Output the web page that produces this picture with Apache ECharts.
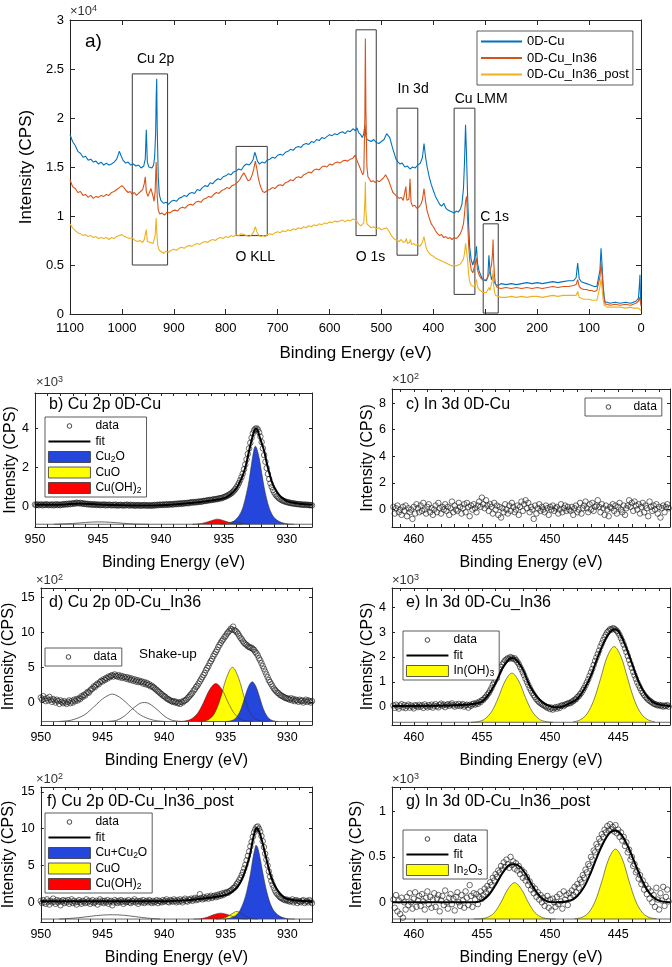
<!DOCTYPE html>
<html><head><meta charset="utf-8">
<script src="https://cdn.jsdelivr.net/npm/echarts@6/dist/echarts.min.js"></script>
<style>html,body{margin:0;padding:0;background:#fff}#c{width:672px;height:967px}</style>
</head><body><div id="c"></div>
<script>
// ---------------- DATA ----------------
// Survey spectra (a): [binding energy eV, intensity in 1e4 CPS]
const SURVEY_NAMES = ['0D-Cu', '0D-Cu_In36', '0D-Cu_In36_post'];
const SURVEY_CU = [[1100,1.83],[1095,1.76],[1090,1.72],[1085,1.66],[1080,1.64],[1075,1.60],[1070,1.61],[1065,1.57],[1060,1.58],[1055,1.55],[1050,1.56],[1045,1.53],[1040,1.55],[1035,1.52],[1030,1.54],[1025,1.52],[1020,1.53],[1015,1.55],[1010,1.58],[1005,1.66],[1002,1.62],[998,1.57],[993,1.54],[988,1.55],[983,1.52],[978,1.53],[973,1.51],[968,1.52],[963,1.49],[958,1.51],[955,1.58],[953,1.88],[951,1.55],[948,1.50],[945,1.51],[942,1.49],[939,1.52],[937,1.60],[935,1.85],[934,2.20],[933,2.40],[932,1.90],[930,1.40],[928,1.22],[925,1.16],[920,1.13],[915,1.14],[910,1.12],[905,1.15],[900,1.16],[895,1.15],[890,1.18],[885,1.19],[880,1.21],[875,1.20],[870,1.23],[865,1.24],[860,1.23],[855,1.27],[850,1.26],[845,1.29],[840,1.31],[835,1.30],[830,1.34],[825,1.33],[820,1.36],[815,1.38],[810,1.37],[805,1.40],[800,1.41],[795,1.43],[790,1.42],[785,1.45],[780,1.46],[775,1.48],[770,1.47],[765,1.51],[760,1.53],[755,1.52],[750,1.55],[747,1.58],[744,1.65],[742,1.62],[739,1.56],[735,1.53],[730,1.55],[725,1.54],[720,1.57],[715,1.58],[710,1.60],[705,1.59],[700,1.62],[695,1.63],[690,1.62],[685,1.65],[680,1.66],[675,1.68],[670,1.67],[665,1.70],[660,1.71],[655,1.70],[650,1.73],[645,1.74],[640,1.73],[635,1.76],[630,1.75],[625,1.78],[620,1.77],[615,1.80],[610,1.79],[605,1.81],[600,1.83],[595,1.82],[590,1.84],[585,1.83],[580,1.85],[575,1.86],[570,1.84],[565,1.87],[560,1.86],[555,1.89],[550,1.87],[547,1.90],[544,1.85],[540,1.83],[537,1.80],[534,1.84],[532,1.93],[530,1.82],[528,1.78],[525,1.77],[520,1.76],[515,1.78],[510,1.75],[505,1.74],[500,1.76],[495,1.78],[490,1.84],[487,1.86],[484,1.80],[480,1.72],[476,1.65],[472,1.58],[468,1.55],[464,1.53],[460,1.54],[455,1.50],[450,1.51],[445,1.48],[440,1.50],[435,1.49],[430,1.52],[425,1.54],[421,1.60],[418,1.74],[415,1.60],[412,1.50],[408,1.40],[404,1.32],[400,1.26],[396,1.20],[392,1.16],[388,1.12],[384,1.10],[380,1.13],[376,1.08],[372,1.06],[368,1.05],[364,1.04],[360,1.03],[356,1.05],[352,1.04],[348,1.07],[345,1.12],[342,1.28],[340,1.55],[338,1.93],[336,1.60],[334,1.20],[332,0.90],[330,0.68],[327,0.55],[324,0.50],[321,0.48],[319,0.60],[317,0.69],[315,0.52],[312,0.44],[309,0.40],[305,0.35],[302,0.33],[298,0.34],[295,0.38],[293,0.60],[291,0.45],[288,0.35],[285,0.40],[283,0.33],[280,0.30],[275,0.29],[270,0.31],[260,0.30],[250,0.31],[240,0.30],[230,0.31],[220,0.32],[210,0.31],[200,0.32],[190,0.31],[180,0.32],[170,0.33],[160,0.32],[150,0.33],[140,0.34],[130,0.34],[125,0.37],[122,0.52],[119,0.36],[115,0.33],[110,0.32],[105,0.31],[100,0.30],[95,0.29],[90,0.28],[85,0.28],[82,0.30],[79,0.45],[77,0.67],[75,0.50],[73,0.30],[71,0.18],[69,0.12],[65,0.12],[60,0.11],[50,0.12],[40,0.11],[30,0.12],[20,0.11],[15,0.12],[10,0.13],[7,0.14],[5,0.16],[3,0.30],[2,0.40],[1,0.18],[0,0.10]];
const SURVEY_IN36 = [[1100,1.37],[1095,1.30],[1090,1.28],[1085,1.24],[1080,1.25],[1075,1.21],[1070,1.22],[1065,1.19],[1060,1.21],[1055,1.18],[1050,1.20],[1045,1.19],[1040,1.21],[1035,1.20],[1030,1.22],[1025,1.21],[1020,1.24],[1015,1.25],[1010,1.27],[1005,1.29],[1000,1.31],[996,1.29],[992,1.26],[988,1.24],[984,1.25],[980,1.22],[976,1.24],[972,1.21],[968,1.23],[964,1.25],[960,1.27],[957,1.33],[955,1.40],[953,1.25],[950,1.20],[947,1.24],[944,1.28],[942,1.30],[940,1.20],[938,1.15],[936,1.25],[934,1.55],[932,1.20],[930,1.06],[927,1.02],[923,1.03],[918,1.01],[913,1.04],[908,1.03],[903,1.05],[898,1.06],[893,1.05],[888,1.08],[883,1.09],[878,1.08],[873,1.11],[868,1.12],[863,1.11],[858,1.14],[853,1.15],[848,1.14],[843,1.17],[838,1.18],[833,1.20],[828,1.19],[823,1.22],[818,1.24],[813,1.23],[808,1.26],[803,1.27],[798,1.29],[793,1.28],[788,1.31],[783,1.32],[778,1.34],[773,1.37],[769,1.41],[765,1.44],[761,1.40],[757,1.36],[753,1.37],[749,1.42],[746,1.48],[743,1.56],[740,1.48],[737,1.38],[733,1.30],[729,1.25],[725,1.24],[720,1.26],[715,1.27],[710,1.29],[705,1.28],[700,1.31],[695,1.32],[690,1.31],[685,1.34],[680,1.35],[675,1.37],[670,1.36],[665,1.39],[660,1.40],[655,1.39],[650,1.42],[645,1.43],[640,1.45],[635,1.44],[630,1.47],[625,1.48],[620,1.47],[615,1.50],[610,1.51],[605,1.50],[600,1.53],[595,1.52],[590,1.54],[585,1.55],[580,1.54],[575,1.56],[570,1.57],[565,1.56],[560,1.58],[555,1.59],[551,1.62],[548,1.58],[545,1.54],[542,1.50],[539,1.46],[536,1.42],[534,1.45],[532,2.00],[531,2.81],[530,2.10],[528,1.50],[526,1.40],[523,1.38],[520,1.35],[516,1.36],[512,1.34],[508,1.36],[504,1.35],[500,1.37],[496,1.39],[492,1.42],[489,1.40],[486,1.36],[482,1.30],[478,1.24],[474,1.22],[470,1.20],[466,1.18],[462,1.19],[458,1.16],[455,1.18],[453,1.30],[451,1.16],[449,1.14],[447,1.17],[445,1.38],[443,1.14],[440,1.10],[436,1.11],[432,1.08],[428,1.09],[424,1.12],[421,1.17],[418,1.28],[415,1.15],[412,1.05],[408,0.98],[404,0.92],[400,0.89],[396,0.85],[392,0.82],[388,0.80],[384,0.81],[380,0.78],[376,0.79],[372,0.77],[368,0.78],[364,0.76],[360,0.78],[356,0.77],[352,0.79],[348,0.82],[345,0.86],[342,0.92],[340,1.02],[338,1.15],[336,1.20],[334,0.95],[332,0.70],[330,0.55],[327,0.45],[324,0.42],[321,0.44],[319,0.52],[317,0.57],[315,0.45],[312,0.40],[309,0.37],[305,0.35],[302,0.34],[298,0.35],[295,0.36],[293,0.40],[290,0.42],[288,0.50],[286,0.62],[285,0.76],[284,0.55],[282,0.38],[280,0.30],[277,0.27],[270,0.26],[260,0.27],[250,0.26],[240,0.27],[230,0.26],[220,0.27],[210,0.26],[200,0.27],[190,0.26],[180,0.27],[170,0.28],[160,0.27],[150,0.28],[140,0.28],[130,0.29],[125,0.30],[122,0.35],[119,0.28],[115,0.26],[110,0.25],[105,0.25],[100,0.24],[95,0.24],[90,0.23],[85,0.24],[82,0.26],[79,0.38],[77,0.52],[75,0.40],[73,0.25],[71,0.15],[69,0.10],[65,0.10],[60,0.09],[50,0.10],[40,0.09],[30,0.10],[20,0.09],[15,0.10],[10,0.11],[7,0.12],[5,0.13],[3,0.17],[2,0.19],[1,0.12],[0,0.08]];
const SURVEY_POST = [[1100,0.92],[1095,0.88],[1090,0.85],[1085,0.83],[1080,0.82],[1075,0.80],[1070,0.81],[1065,0.79],[1060,0.80],[1055,0.78],[1050,0.79],[1045,0.77],[1040,0.78],[1035,0.77],[1030,0.78],[1025,0.76],[1020,0.78],[1015,0.77],[1010,0.79],[1005,0.80],[1000,0.81],[995,0.79],[990,0.78],[985,0.77],[980,0.78],[975,0.75],[970,0.74],[965,0.75],[960,0.73],[957,0.76],[955,0.78],[953,0.86],[951,0.74],[948,0.72],[945,0.73],[942,0.71],[940,0.72],[938,0.74],[936,0.80],[934,0.98],[933,0.85],[931,0.70],[928,0.65],[925,0.63],[920,0.62],[915,0.64],[910,0.63],[905,0.65],[900,0.66],[895,0.65],[890,0.67],[885,0.68],[880,0.67],[875,0.69],[870,0.70],[865,0.69],[860,0.71],[855,0.72],[850,0.71],[845,0.73],[840,0.74],[835,0.73],[830,0.75],[825,0.76],[820,0.75],[815,0.77],[810,0.78],[805,0.77],[800,0.79],[795,0.78],[790,0.80],[785,0.79],[780,0.81],[775,0.80],[770,0.82],[765,0.81],[760,0.80],[755,0.79],[750,0.81],[746,0.84],[743,0.89],[740,0.84],[736,0.80],[732,0.79],[728,0.80],[724,0.79],[720,0.81],[715,0.82],[710,0.81],[705,0.83],[700,0.84],[695,0.83],[690,0.85],[685,0.84],[680,0.86],[675,0.85],[670,0.87],[665,0.86],[660,0.88],[655,0.87],[650,0.89],[645,0.88],[640,0.90],[635,0.89],[630,0.91],[625,0.90],[620,0.92],[615,0.91],[610,0.93],[605,0.92],[600,0.94],[595,0.93],[590,0.95],[585,0.94],[580,0.95],[575,0.96],[570,0.94],[565,0.96],[560,0.95],[555,0.97],[550,0.96],[547,0.94],[544,0.92],[540,0.90],[537,0.89],[534,0.93],[532,1.15],[531,1.35],[530,1.05],[528,0.92],[525,0.90],[520,0.88],[515,0.89],[510,0.87],[505,0.88],[500,0.86],[495,0.87],[490,0.88],[486,0.85],[482,0.81],[478,0.78],[474,0.76],[470,0.75],[466,0.74],[462,0.76],[458,0.73],[454,0.74],[452,0.77],[450,0.72],[446,0.73],[444,0.76],[442,0.71],[438,0.72],[434,0.70],[430,0.71],[426,0.69],[422,0.72],[418,0.79],[415,0.70],[412,0.65],[408,0.62],[404,0.60],[400,0.59],[396,0.57],[392,0.56],[388,0.55],[384,0.54],[380,0.53],[376,0.52],[372,0.51],[368,0.50],[364,0.49],[360,0.50],[356,0.49],[352,0.50],[348,0.51],[345,0.53],[342,0.56],[340,0.62],[338,0.72],[336,0.74],[334,0.55],[332,0.40],[330,0.33],[327,0.29],[324,0.27],[321,0.28],[319,0.32],[317,0.35],[315,0.28],[312,0.25],[309,0.23],[305,0.22],[302,0.21],[298,0.22],[295,0.23],[293,0.27],[291,0.24],[288,0.25],[286,0.35],[285,0.45],[284,0.30],[282,0.22],[280,0.19],[277,0.17],[270,0.17],[260,0.17],[250,0.18],[240,0.17],[230,0.18],[220,0.17],[210,0.18],[200,0.18],[190,0.17],[180,0.18],[170,0.19],[160,0.18],[150,0.19],[140,0.19],[130,0.19],[125,0.19],[122,0.23],[119,0.17],[115,0.16],[110,0.15],[105,0.15],[100,0.15],[95,0.14],[90,0.14],[85,0.14],[82,0.16],[79,0.28],[77,0.36],[75,0.26],[73,0.15],[71,0.09],[69,0.07],[65,0.07],[60,0.07],[50,0.07],[40,0.07],[30,0.06],[20,0.07],[15,0.06],[10,0.06],[7,0.06],[5,0.06],[3,0.05],[2,0.05],[1,0.04],[0,0.03]];
// Region boxes in (a): [label, E high, E low, y low, y high, label E, label y]
const REGION_BOXES = [
  ['Cu 2p', 980, 912, 0.50, 2.45, 935, 2.60],
  ['O KLL', 780, 720, 0.80, 1.71, 743, 0.58],
  ['O 1s', 549, 510, 0.80, 2.90, 521, 0.58],
  ['In 3d', 470, 430, 0.60, 2.10, 439, 2.29],
  ['Cu LMM', 360, 320, 0.20, 2.10, 308, 2.19],
  ['C 1s', 304, 275, 0.01, 0.92, 282, 0.99]
];

// Tick values
const XT_SURVEY = [0,100,200,300,400,500,600,700,800,900,1000,1100];
const YT_SURVEY = [0,0.5,1,1.5,2,2.5,3];
const XT_CU = [928,929,930,931,932,933,934,935,936,937,938,939,940,941,942,943,944,945,946,947,948,949,950];
const XL_CU = [930,935,940,945,950];
const XT_IN = [442,443,444,445,446,447,448,449,450,451,452,453,454,455,456,457,458,459,460,461];
const XL_IN = [445,450,455,460];
const YT_B = [0,2,4], YT_C = [0,2,4,6,8], YT_D = [0,5,10,15], YT_E = [0,1,2,3,4], YT_F = [0,5,10,15], YT_G = [0,0.5,1];

// (b) Cu 2p 0D-Cu, x10^3 CPS, sampled from 950.0 eV downwards every 0.1 eV
const B_DATA = [0.12,0.10,0.14,0.09,0.11,0.13,0.08,0.12,0.10,0.14,0.11,
0.09,0.12,0.10,0.13,0.08,0.11,0.14,0.10,0.12,0.09,
0.13,0.11,0.15,0.12,0.16,0.13,0.17,0.14,0.18,0.16,
0.19,0.17,0.22,0.20,0.18,0.21,0.17,0.19,0.15,0.17,
0.14,0.16,0.12,0.15,0.13,0.11,0.14,0.12,0.10,0.13,
0.11,0.09,0.12,0.10,0.13,0.08,0.11,0.09,0.12,0.10,
0.08,0.11,0.09,0.12,0.07,0.10,0.08,0.11,0.09,0.07,
0.10,0.08,0.12,0.09,0.07,0.11,0.08,0.10,0.06,0.09,
0.07,0.10,0.08,0.06,0.09,0.07,0.10,0.08,0.06,0.09,
0.08,0.06,0.09,0.07,0.10,0.08,0.11,0.09,0.12,0.10,
0.11,0.13,0.10,0.12,0.14,0.11,0.13,0.15,0.12,0.14,
0.16,0.14,0.17,0.15,0.18,0.16,0.19,0.17,0.20,0.19,
0.21,0.19,0.22,0.24,0.22,0.25,0.23,0.26,0.24,0.27,
0.28,0.26,0.29,0.31,0.30,0.32,0.34,0.33,0.36,0.35,
0.37,0.39,0.38,0.41,0.40,0.43,0.45,0.44,0.47,0.50,
0.52,0.55,0.58,0.62,0.66,0.70,0.76,0.83,0.90,0.99,
1.10,1.22,1.36,1.52,1.70,1.92,2.16,2.42,2.70,2.98,
3.26,3.52,3.74,3.90,3.98,4.00,3.94,3.80,3.58,3.30,
2.98,2.64,2.30,1.98,1.68,1.42,1.20,1.02,0.86,0.74,
0.64,0.56,0.49,0.43,0.39,0.35,0.32,0.29,0.27,0.25,
0.23,0.22,0.20,0.19,0.18,0.17,0.16,0.15,0.14,0.14,
0.13,0.12,0.12,0.11,0.12,0.10,0.11,0.09,0.10,0.08];
const B_FIT = [[950,0.11],[948,0.11],[946.5,0.18],[945,0.13],[943,0.09],[941,0.08],[939,0.13],[937,0.24],[936,0.33],[935,0.45],[934.5,0.62],[934,0.95],[933.6,1.45],[933.3,2.0],[933,2.85],[932.8,3.4],[932.6,3.85],[932.5,3.98],[932.4,3.98],[932.2,3.65],[932,3.25],[931.8,2.85],[931.6,2.25],[931.4,1.75],[931.2,1.3],[931,1.0],[930.6,0.6],[930.2,0.38],[930,0.3],[929.5,0.21],[929,0.16],[928,0.11]];
const B_BASE = [[950,-0.88],[928,-0.88]];
const B_SHAKE = [[948.5,-0.88],[947,-0.84],[946,-0.79],[945,-0.76],[944,-0.78],[943,-0.83],[942,-0.87],[941,-0.88]];
const B_CUOH2 = [[937.5,-0.88],[937,-0.86],[936.5,-0.8],[936,-0.7],[935.5,-0.62],[935,-0.7],[934.5,-0.8],[934,-0.86],[933.5,-0.88]];
const B_CUO = [[935.3,-0.88],[934.8,-0.84],[934.4,-0.77],[934.1,-0.74],[933.8,-0.77],[933.4,-0.84],[933,-0.88]];
const B_CU2O = [[935,-0.88],[934.6,-0.84],[934.2,-0.72],[933.8,-0.45],[933.5,-0.05],[933.2,0.7],[933,1.35],[932.8,2.2],[932.6,2.95],[932.5,3.09],[932.4,3.0],[932.2,2.5],[932,1.75],[931.8,1.0],[931.6,0.4],[931.4,-0.05],[931.2,-0.35],[931,-0.55],[930.6,-0.74],[930.2,-0.83],[929.8,-0.87],[929.4,-0.88]];

// (c) In 3d 0D-Cu, x10^2 CPS, from 461.5 eV downwards every 0.1 eV
const C_DATA = [0.2,-0.3,0.1,0.3,-0.2,0.0,-0.4,0.2,-0.1,0.3,
-0.5,0.1,-0.2,0.0,-0.7,0.2,-0.3,0.4,0.1,-0.2,
0.3,-0.1,0.5,0.0,-0.3,0.2,0.4,-0.2,0.1,-0.4,
0.0,0.3,-0.2,0.5,0.1,-0.3,0.2,0.0,0.4,-0.1,
0.2,-0.4,0.1,0.6,-0.2,0.3,0.0,-0.1,0.5,0.2,
-0.3,0.1,0.4,-0.2,0.5,0.2,-0.5,0.3,0.0,0.4,
0.1,-0.2,0.3,0.6,0.2,0.9,0.4,0.1,0.7,0.3,
-0.1,0.4,0.2,-0.3,0.5,0.0,0.3,-0.4,0.2,-0.6,
0.1,-0.2,0.4,0.0,-0.3,0.3,-0.1,0.5,0.2,-0.2,
0.0,0.3,-0.4,0.2,0.6,-0.1,0.4,0.7,0.1,0.5,
-0.2,0.2,0.0,-0.7,0.3,-0.3,0.1,0.4,-0.1,0.2,
0.0,-0.2,0.3,0.1,-0.4,0.2,0.0,0.3,-0.1,0.1,
0.2,-0.3,0.0,0.4,-0.2,0.1,0.3,-0.1,0.2,0.0,
-0.1,0.2,-0.4,0.1,0.3,-0.2,0.0,0.5,-0.3,0.1,
0.3,0.6,0.1,-0.2,0.4,0.0,0.5,-0.1,0.2,0.3,
0.7,0.2,-0.2,0.4,0.1,-0.4,0.3,0.0,-0.5,0.2,
0.1,0.4,-0.1,0.3,-0.3,0.2,0.5,0.0,-0.2,0.3,
-0.4,0.1,0.3,0.7,0.2,0.5,-0.1,0.6,0.3,0.0,
0.4,-0.3,0.2,0.5,-0.2,0.3,0.1,-0.5,0.6,0.2,
-0.1,0.3,0.0,0.4,-0.3,0.2,-0.6,0.1,0.3,-0.2,
0.2,0.4,0.1];

// (d) Cu 2p 0D-Cu_In36, x10^2 CPS, from 950.0 eV downwards every 0.1 eV
const D_DATA = [0.7,0.4,0.9,0.5,0.2,0.6,0.3,0.8,0.4,0.1,0.5,
0.3,0.0,0.4,0.2,-0.2,0.3,0.1,-0.1,0.2,0.0,
-0.2,0.1,0.3,-0.1,0.2,0.0,0.4,0.2,0.5,0.3,
0.6,0.5,0.9,0.8,1.1,1.0,1.3,1.5,1.4,1.7,
1.9,2.0,2.3,2.2,2.5,2.7,2.6,2.9,3.1,3.0,
3.3,3.2,3.5,3.4,3.7,3.6,3.8,3.9,3.7,4.0,
3.8,3.7,3.9,3.6,3.8,3.5,3.7,3.6,3.4,3.6,
3.3,3.5,3.2,3.4,3.1,3.3,3.0,3.2,2.9,3.1,
2.9,3.0,2.7,2.9,2.6,2.8,2.5,2.6,2.3,2.4,
2.2,2.1,1.9,1.8,1.6,1.5,1.3,1.2,1.0,0.9,
0.8,0.6,0.5,0.4,0.3,0.2,0.1,0.2,0.0,0.1,
-0.1,0.0,-0.2,0.1,0.0,0.2,0.3,0.4,0.6,0.8,
1.0,1.2,1.4,1.7,1.9,2.2,2.4,2.7,3.0,3.3,
3.6,3.9,4.2,4.6,4.9,5.2,5.6,5.9,6.2,6.6,
6.9,7.2,7.5,7.9,8.2,8.5,8.8,9.0,9.3,9.5,
9.8,10.0,10.2,10.5,10.4,10.8,10.3,10.2,10.0,9.8,
9.5,9.2,9.0,8.7,8.5,8.3,8.2,8.0,7.9,7.8,
7.8,7.6,7.5,7.2,7.0,6.7,6.3,6.0,5.6,5.2,
4.8,4.4,4.0,3.6,3.2,2.9,2.6,2.3,2.0,1.8,
1.6,1.4,1.3,1.1,1.0,0.9,0.8,0.7,0.6,0.6,
0.5,0.4,0.6,0.3,0.5,0.2,0.4,0.3,0.1,0.4,
0.2,0.3,0.0,0.2,0.4,0.1,0.3,0.2,0.0,0.2];
const D_BASE = [[950,-2.7],[928,-2.7]];
const D_SHAKE1 = [[948.5,-2.7],[947.5,-2.5],[946.5,-1.8],[946,-1.1],[945.5,-0.3],[945,0.5],[944.5,1.05],[944.2,1.2],[943.9,1.05],[943.4,0.5],[942.9,-0.3],[942.4,-1.1],[941.9,-1.8],[940.9,-2.5],[939.9,-2.7]];
const D_SHAKE2 = [[944.6,-2.7],[943.8,-2.5],[943.2,-1.9],[942.7,-1.1],[942.2,-0.4],[941.9,-0.08],[941.6,0.0],[941.3,-0.08],[941,-0.4],[940.5,-1.1],[940,-1.9],[939.4,-2.5],[938.6,-2.7]];
const D_CUOH2 = [[938.8,-2.7],[938.3,-2.63],[937.8,-2.36],[937.3,-1.57],[936.8,0.0],[936.3,1.84],[935.8,2.7],[935.3,1.84],[934.8,0.0],[934.3,-1.57],[933.8,-2.36],[933.3,-2.63],[932.8,-2.7]];
const D_CUO = [[937.2,-2.7],[936.95,-2.67],[936.45,-2.48],[935.95,-1.66],[935.45,0.46],[934.95,3.46],[934.45,5.0],[933.95,3.46],[933.45,0.46],[932.95,-1.66],[932.45,-2.48],[931.95,-2.67],[931.5,-2.7]];
const D_CU2O = [[934.95,-2.7],[934.65,-2.64],[934.35,-2.45],[934.05,-1.94],[933.75,-0.89],[933.45,0.75],[933.15,2.27],[932.85,2.95],[932.55,2.27],[932.25,0.75],[931.95,-0.89],[931.65,-1.94],[931.35,-2.45],[931.05,-2.64],[930.75,-2.7]];
const D_NOTE = [[939.7, 6.8, 'Shake-up']];

// (e) In 3d 0D-Cu_In36, x10^3 CPS, from 461.5 eV downwards every 0.1 eV
const E_DATA = [0.05,-0.05,0.08,0.0,-0.08,0.04,0.1,-0.03,0.06,-0.06,
0.02,0.08,-0.04,0.05,0.0,-0.07,0.06,0.03,-0.02,0.07,
0.0,0.05,-0.05,0.09,0.02,-0.03,0.06,0.0,0.08,-0.04,
0.04,0.1,0.02,-0.03,0.07,0.12,0.03,0.08,-0.02,0.06,
0.1,0.03,0.08,0.13,0.05,0.0,0.09,0.04,0.11,0.02,
0.06,0.1,0.0,0.05,0.08,-0.04,0.07,0.03,0.1,0.12,
0.08,0.15,0.11,0.2,0.18,0.26,0.28,0.35,0.4,0.48,
0.55,0.65,0.75,0.88,0.98,1.1,1.22,1.35,1.48,1.6,
1.7,1.78,1.86,1.9,1.95,1.93,2.0,1.96,1.92,1.95,
1.88,1.8,1.72,1.6,1.5,1.38,1.26,1.12,1.0,0.88,
0.76,0.65,0.55,0.46,0.38,0.3,0.24,0.18,0.14,0.1,
0.06,0.03,0.0,-0.05,-0.02,-0.1,-0.04,-0.12,-0.06,-0.02,
-0.08,0.0,-0.05,0.03,0.06,0.02,0.08,0.1,0.12,0.15,
0.14,0.2,0.22,0.28,0.3,0.38,0.42,0.5,0.56,0.66,
0.75,0.86,0.98,1.1,1.24,1.38,1.52,1.68,1.84,1.98,
2.12,2.26,2.42,2.55,2.68,2.8,2.9,3.0,3.05,3.12,
3.1,3.16,3.14,3.1,3.05,2.98,2.88,2.76,2.64,2.5,
2.35,2.2,2.04,1.88,1.72,1.56,1.4,1.26,1.12,0.98,
0.86,0.75,0.64,0.55,0.47,0.4,0.34,0.28,0.24,0.2,
0.16,0.12,0.1,0.08,0.05,0.07,0.03,0.05,0.0,0.04,
0.02,0.06,0.0];
const E_FIT = [[461.6,0.03],[457,0.06],[455.5,0.12],[455,0.2],[454.5,0.5],[454,0.95],[453.5,1.55],[453,1.92],[452.8,1.96],[452.5,1.9],[452,1.5],[451.5,0.85],[451,0.42],[450.5,0.15],[450,0.02],[449.5,-0.03],[449,0.02],[448.5,0.15],[448,0.32],[447.5,0.7],[447,1.25],[446.5,2.0],[446,2.65],[445.6,3.0],[445.3,3.12],[445,3.05],[444.5,2.5],[444,1.75],[443.5,1.0],[443,0.5],[442.5,0.2],[442,0.08],[441.2,0.03]];
const E_BASE = [[461.6,-0.63],[441.2,-0.63]];
const E_INOH3_A = [[455.8,-0.63],[455.3,-0.604],[454.8,-0.505],[454.3,-0.21],[453.8,0.36],[453.3,1.03],[452.8,1.35],[452.3,1.03],[451.8,0.36],[451.3,-0.21],[450.8,-0.505],[450.3,-0.604],[449.8,-0.63]];
const E_INOH3_B = [[448.3,-0.61],[447.8,-0.535],[447.3,-0.297],[446.8,0.245],[446.3,1.12],[445.8,2.02],[445.3,2.42],[444.8,2.02],[444.3,1.12],[443.8,0.245],[443.3,-0.297],[442.8,-0.535],[442.3,-0.61]];

// (f) Cu 2p 0D-Cu_In36_post, x10^2 CPS, from 950.0 eV downwards every 0.1 eV
const F_DATA = [0.2,-0.1,0.3,0.0,-0.2,0.4,0.1,-0.3,0.2,0.0,0.5,
0.1,-0.2,0.3,0.0,0.2,-0.4,0.1,0.3,-0.1,0.2,
0.0,0.3,-0.2,0.1,0.4,-0.1,0.2,0.0,-0.3,0.1,
0.3,0.0,-0.2,0.2,0.1,-0.1,0.4,0.0,0.2,-0.2,
0.1,0.3,-0.1,0.0,0.2,-0.3,0.1,0.4,0.0,0.2,
-0.1,0.2,0.0,0.3,-0.2,0.1,0.2,-0.4,0.0,0.3,
0.1,-0.1,0.2,0.0,0.3,0.1,-0.2,0.2,0.0,0.1,
0.3,0.0,-0.1,0.2,0.1,0.4,0.0,0.2,-0.2,0.1,
0.2,0.0,0.3,-0.1,0.1,0.2,0.0,0.3,0.1,-0.1,
0.2,0.0,0.1,0.3,-0.1,0.2,0.1,0.0,0.3,0.1,
0.2,0.4,0.1,0.0,0.3,0.2,0.1,0.4,0.2,0.0,
0.3,0.1,0.4,0.2,0.0,0.3,0.5,0.2,0.1,0.4,
0.3,0.5,0.2,0.4,0.6,0.3,0.5,0.4,1.1,0.6,
0.4,0.7,0.5,0.6,0.8,0.5,0.7,0.9,0.6,0.8,
0.9,0.7,1.0,0.8,1.1,0.9,1.2,1.0,1.3,1.2,
1.4,1.3,1.5,1.6,1.7,1.9,2.0,2.2,2.5,2.7,
3.0,3.3,3.7,4.1,4.6,5.1,5.7,6.3,6.9,7.6,
8.2,8.9,9.5,9.9,10.2,10.3,10.0,9.6,9.0,8.3,
7.5,6.6,5.8,5.0,4.2,3.5,2.9,2.4,2.0,1.6,
1.3,1.1,0.9,0.7,0.6,0.5,0.4,0.3,0.4,0.2,
0.3,0.1,0.2,0.4,0.0,0.2,0.3,-0.1,0.2,0.1,
0.0,0.2,0.3,-0.1,0.1,0.2,0.0,0.3,0.1,-0.1];
const F_FIT = [[950,0.15],[940,0.15],[938,0.3],[937,0.5],[936,0.7],[935,1.0],[934.5,1.4],[934,2.2],[933.6,3.5],[933.3,4.9],[933,6.7],[932.8,8.5],[932.6,9.8],[932.5,10.1],[932.4,10.0],[932.2,9.2],[932,8.0],[931.8,6.6],[931.6,5.2],[931.4,3.9],[931.2,2.9],[931,2.2],[930.6,1.2],[930.2,0.6],[930,0.45],[929,0.2],[928,0.15]];
const F_BASE = [[950,-2.27],[928,-2.27]];
const F_SHAKE = [[948.5,-2.27],[947,-2.1],[946,-1.9],[945,-1.73],[944.2,-1.69],[943.3,-1.75],[942.3,-1.95],[941.3,-2.15],[940.3,-2.27]];
const F_CUOH2 = [[937.6,-2.27],[937,-2.22],[936.5,-2.02],[936,-1.7],[935.4,-1.47],[934.8,-1.7],[934.3,-2.02],[933.8,-2.22],[933.2,-2.27]];
const F_CUO = [[935.8,-2.27],[935.3,-2.2],[934.9,-1.97],[934.5,-1.55],[934.1,-1.24],[933.7,-1.55],[933.3,-1.97],[932.9,-2.2],[932.4,-2.27]];
const F_CUCU2O = [[935.2,-2.27],[934.8,-2.2],[934.4,-2.0],[934,-1.5],[933.7,-0.6],[933.4,0.8],[933.2,2.2],[933,3.8],[932.8,5.9],[932.6,7.5],[932.55,7.74],[932.4,7.4],[932.2,5.9],[932,4.1],[931.8,2.4],[931.6,1.0],[931.4,-0.1],[931.2,-0.85],[931,-1.35],[930.6,-1.9],[930.2,-2.15],[929.8,-2.25],[929.4,-2.27]];

// (g) In 3d 0D-Cu_In36_post, x10^3 CPS, from 461.5 eV downwards every 0.1 eV
const G_DATA = [0.03,-0.06,0.08,-0.1,0.02,-0.13,0.05,-0.17,0.0,-0.08,
0.06,-0.03,0.1,0.0,-0.07,0.04,0.11,-0.05,0.02,0.07,
-0.04,0.09,0.01,-0.08,0.05,0.12,-0.02,0.06,-0.06,0.03,
0.1,-0.05,0.04,0.08,-0.1,0.02,0.07,-0.03,0.13,0.0,
-0.07,0.05,0.09,-0.02,0.04,-0.09,0.06,0.11,0.0,-0.04,
0.08,0.02,-0.06,0.12,0.05,-0.03,0.19,0.07,-0.05,0.1,
0.03,0.09,-0.02,0.06,0.12,0.04,0.08,0.15,0.11,0.18,
0.14,0.22,0.19,0.27,0.24,0.31,0.28,0.35,0.33,0.4,
0.36,0.44,0.39,0.47,0.42,0.38,0.5,0.41,0.45,0.37,
0.43,0.35,0.4,0.31,0.36,0.27,0.33,0.24,0.28,0.19,
0.23,0.14,0.18,0.1,0.15,0.06,0.11,0.03,0.08,0.0,
0.05,-0.04,0.02,0.07,-0.06,0.03,-0.09,0.04,0.0,-0.05,
0.06,-0.02,0.09,0.01,-0.07,0.12,0.03,0.08,-0.03,0.1,
0.05,0.13,0.08,0.17,0.11,0.2,0.16,0.25,0.22,0.3,
0.27,0.36,0.33,0.42,0.4,0.5,0.47,0.57,0.55,0.64,
0.61,0.7,0.67,0.75,0.72,0.8,0.77,0.84,0.79,0.86,
0.8,0.83,0.78,0.85,0.76,0.8,0.72,0.77,0.68,0.72,
0.62,0.66,0.55,0.58,0.47,0.5,0.4,0.42,0.33,0.35,
0.26,0.3,0.2,0.24,0.14,0.19,0.09,0.15,0.04,0.12,
0.0,0.08,-0.05,0.16,0.03,-0.08,0.1,0.02,0.17,-0.04,
0.06,0.14,0.01];
const G_FIT = [[461.6,0.0],[455.5,0.0],[455,0.02],[454.5,0.08],[454,0.19],[453.5,0.32],[453,0.41],[452.6,0.42],[452.2,0.39],[451.7,0.29],[451.2,0.16],[450.7,0.06],[450.2,0.01],[449.5,0.0],[448.5,0.02],[448,0.07],[447.5,0.17],[447,0.33],[446.5,0.52],[446,0.68],[445.6,0.77],[445.2,0.79],[444.8,0.75],[444.3,0.62],[443.8,0.44],[443.3,0.26],[442.8,0.12],[442.3,0.04],[441.8,0.01],[441.2,0.0]];
const G_BASE = [[461.6,-0.184],[441.2,-0.184]];
const G_IN2O3_A = [[455.6,-0.184],[455.1,-0.181],[454.6,-0.166],[454.1,-0.115],[453.6,0.0],[453.1,0.144],[452.6,0.216],[452.1,0.144],[451.6,0.0],[451.1,-0.115],[450.6,-0.166],[450.1,-0.181],[449.6,-0.184]];
const G_IN2O3_B = [[448.2,-0.181],[447.7,-0.168],[447.2,-0.119],[446.7,0.008],[446.2,0.231],[445.7,0.476],[445.2,0.586],[444.7,0.476],[444.2,0.231],[443.7,0.008],[443.2,-0.119],[442.7,-0.168],[442.2,-0.181]];

// ---------------- STYLE ----------------
const FONT = '"Liberation Sans", Arial, Helvetica, sans-serif';
const AX = '#262626';
const LINE_COLORS = ['#0072BD', '#D95319', '#EDB120'];
const F_BLUE = '#2446dc', F_YEL = '#ffff00', F_RED = '#ff0000';
const OUTLINE = '#333';

const grids = [], xAxes = [], yAxes = [], series = [], legends = [], titles = [], graphics = [];
const textNotes = []; // [gridIndex, x, y, text, fontSize]

function sampled(x0, dx, ys) { return ys.map((y, i) => [Math.round((x0 + dx * i) * 100) / 100, y]); }

function addPanel(p) {
  const gi = grids.length;
  grids.push({ left: p.box[0], top: p.box[1], width: p.box[2], height: p.box[3] });
  const xi = xAxes.length, yi = yAxes.length;
  const xc = { gridIndex: gi, type: 'value', min: p.x[0], max: p.x[1], inverse: true, splitLine: { show: false } };
  const yc = { gridIndex: gi, type: 'value', min: p.y[0], max: p.y[1], splitLine: { show: false } };
  const line = { show: true, onZero: false, lineStyle: { color: AX, width: 1 } };
  const tick = (vals) => ({ show: true, inside: true, length: p.tl, customValues: vals, lineStyle: { color: AX, width: 1 } });
  xAxes.push(Object.assign({}, xc, { position: 'bottom', axisLine: line, axisTick: tick(p.xt),
    axisLabel: { show: true, customValues: p.xl, formatter: v => String(v), margin: p.xm, color: '#000', fontSize: p.fs, fontFamily: FONT },
    name: 'Binding Energy (eV)', nameLocation: 'middle', nameGap: p.xng,
    nameTextStyle: { fontSize: p.nfs, fontFamily: FONT, color: '#000' } }));
  xAxes.push(Object.assign({}, xc, { position: 'top', axisLine: line, axisTick: tick(p.xt), axisLabel: { show: false } }));
  yAxes.push(Object.assign({}, yc, { position: 'left', axisLine: line, axisTick: tick(p.yt),
    axisLabel: { show: true, customValues: p.yt, formatter: v => String(v), margin: 6, color: '#000', fontSize: p.fs, fontFamily: FONT },
    name: 'Intensity (CPS)', nameLocation: 'middle', nameGap: p.yng, nameRotate: 90,
    nameTextStyle: { fontSize: p.nfs, fontFamily: FONT, color: '#000' } }));
  yAxes.push(Object.assign({}, yc, { position: 'right', axisLine: line, axisTick: tick(p.yt), axisLabel: { show: false } }));
  graphics.push({ type: 'text', left: p.mult[0], top: p.mult[1], silent: true,
    style: { text: '{m|×10}{s|' + p.mult[2] + '}', fill: '#333',
      rich: { m: { fontSize: 13, lineHeight: 14, fontFamily: FONT, fill: '#333' }, s: { fontSize: 9, lineHeight: 9, padding: [0, 0, 6, 0], fontFamily: FONT, fill: '#333' } } } });
  return { gi, xi, yi };
}

// ---- Panel a ----
const A = addPanel({ box: [70, 20, 571, 294], x: [0, 1100], y: [0, 3], xt: XT_SURVEY, xl: XT_SURVEY, yt: YT_SURVEY,
  tl: 5, fs: 13, nfs: 17, xm: 8, xng: 31, yng: 23, mult: [70, 4, '4'] });
[SURVEY_CU, SURVEY_IN36, SURVEY_POST].forEach((d, k) => {
  const s = { type: 'line', name: SURVEY_NAMES[k], xAxisIndex: A.xi, yAxisIndex: A.yi, data: d, showSymbol: false, symbol: 'none',
    color: LINE_COLORS[k], lineStyle: { color: LINE_COLORS[k], width: 1.1 }, itemStyle: { color: LINE_COLORS[k] }, z: 2 + k };
  if (k === 0) {
    s.markArea = { silent: true, itemStyle: { color: 'rgba(0,0,0,0)', borderColor: '#3a3a3a', borderWidth: 1 }, label: { show: false },
      data: REGION_BOXES.map(b => [{ coord: [b[1], b[3]] }, { coord: [b[2], b[4]] }]) };
  }
  series.push(s);
});
REGION_BOXES.forEach(b => textNotes.push([A.gi, b[5], b[6], b[0], 14]));
legends.push({ left: 477, top: 31, orient: 'vertical', selectedMode: false, padding: [4, 4, 4, 4], borderColor: '#333', borderWidth: 0.8,
  backgroundColor: '#fff', itemWidth: 41, itemHeight: 2, itemGap: 3.5,
  textStyle: { fontSize: 13, lineHeight: 13, fontFamily: FONT, color: '#000' },
  data: SURVEY_NAMES.map((n, k) => ({ name: n, icon: 'rect', itemStyle: { color: LINE_COLORS[k], borderWidth: 0 } })) });
titles.push({ text: 'a)', left: 85, top: 32, padding: 0, textStyle: { fontSize: 19, fontWeight: 'normal', fontFamily: FONT, color: '#000' } });

// ---- Sub-panels ----
const CIRCLE_ICON = 'path://M0,0 M42,11 M23.3,5.5 A2.3,2.3 0 1 1 18.7,5.5 A2.3,2.3 0 1 1 23.3,5.5 Z';
const CIRCLE_ICON40 = 'path://M0,0 M40,11 M22.3,5.5 A2.3,2.3 0 1 1 17.7,5.5 A2.3,2.3 0 1 1 22.3,5.5 Z';
const FIT_ICON = 'path://M0,0 M42,11 M0,4.6 L42,4.6 L42,6.6 L0,6.6 Z';
const COMP_COLORS = { 'Cu2O': F_BLUE, 'CuO': F_YEL, 'Cu(OH)2': F_RED, 'In(OH)3': F_YEL, 'Cu+Cu2O': F_BLUE, 'In2O3': F_YEL };
const LEG_TEXT = { 'Cu2O': 'Cu{s|2}O', 'Cu(OH)2': 'Cu(OH){s|2}', 'In(OH)3': 'In(OH){s|3}', 'Cu+Cu2O': 'Cu+Cu{s|2}O', 'In2O3': 'In{s|2}O{s|3}' };
function legendItem(n, narrow) {
  if (n === 'data') return { name: n, icon: narrow ? CIRCLE_ICON40 : CIRCLE_ICON, itemStyle: { color: 'rgba(0,0,0,0)', borderColor: '#000', borderWidth: 0.9 } };
  if (n === 'fit') return { name: n, icon: FIT_ICON, itemStyle: { color: '#000', borderWidth: 0 } };
  return { name: n, icon: 'rect', itemStyle: { color: COMP_COLORS[n], borderColor: OUTLINE, borderWidth: 0.8 } };
}

const SUB = [
  { box: [35, 393, 277, 134], x: [928, 950], y: [-1.02, 5.8], xt: XT_CU, xl: XL_CU, yt: YT_B, mult: [36, 375, '3'],
    title: ['b) Cu 2p 0D-Cu', 49, 397], data: [950, -0.1, B_DATA], fit: B_FIT, base: -0.88, baseLine: B_BASE, gray: [B_SHAKE],
    comps: [['Cu(OH)2', B_CUOH2], ['CuO', B_CUO], ['Cu2O', B_CU2O]], leg: [45, 417, ['data', 'fit', 'Cu2O', 'CuO', 'Cu(OH)2']] },
  { box: [392, 389, 278, 138], x: [441.2, 461.6], y: [-1.31, 9.06], xt: XT_IN, xl: XL_IN, yt: YT_C, mult: [392, 372, '2'],
    title: ['c) In 3d 0D-Cu', 406, 397], data: [461.5, -0.1, C_DATA], leg: [585, 398, ['data']] },
  { box: [35, 588, 277, 137], x: [928, 950], y: [-3.2, 16.3], xt: XT_CU, xl: XL_CU, yt: YT_D, mult: [36, 573, '2'],
    title: ['d) Cu 2p 0D-Cu_In36', 49, 595], data: [950, -0.1, D_DATA], base: -2.7, baseLine: D_BASE, gray: [D_SHAKE1, D_SHAKE2],
    comps: [['Cu(OH)2', D_CUOH2], ['CuO', D_CUO], ['Cu2O', D_CU2O]], note: D_NOTE, leg: [45, 648, ['data']] },
  { box: [392, 588, 278, 137], x: [441.2, 461.6], y: [-0.74, 4.78], xt: XT_IN, xl: XL_IN, yt: YT_E, mult: [392, 573, '3'],
    title: ['e) In 3d 0D-Cu_In36', 406, 595], data: [461.5, -0.1, E_DATA], fit: E_FIT, base: -0.63, baseLine: E_BASE,
    comps: [['In(OH)3', E_INOH3_A], ['In(OH)3', E_INOH3_B]], leg: [403, 631, ['data', 'fit', 'In(OH)3']] },
  { box: [35, 787, 277, 137], x: [928, 950], y: [-2.67, 15.66], xt: XT_CU, xl: XL_CU, yt: YT_F, mult: [36, 772, '2'],
    title: ['f) Cu 2p 0D-Cu_In36_post', 47, 794], data: [950, -0.1, F_DATA], fit: F_FIT, base: -2.27, baseLine: F_BASE, gray: [F_SHAKE],
    comps: [['Cu(OH)2', F_CUOH2], ['CuO', F_CUO], ['Cu+Cu2O', F_CUCU2O]], leg: [45, 813, ['data', 'fit', 'Cu+Cu2O', 'CuO', 'Cu(OH)2']] },
  { box: [392, 787, 278, 137], x: [441.2, 461.6], y: [-0.217, 1.27], xt: XT_IN, xl: XL_IN, yt: YT_G, mult: [392, 772, '3'],
    title: ['g) In 3d 0D-Cu_In36_post', 406, 794], data: [461.5, -0.1, G_DATA], fit: G_FIT, base: -0.184, baseLine: G_BASE,
    comps: [['In2O3', G_IN2O3_A], ['In2O3', G_IN2O3_B]], leg: [403, 830, ['data', 'fit', 'In2O3']] }
];

SUB.forEach(p => {
  const ax = addPanel({ box: p.box, x: p.x, y: p.y, xt: p.xt, xl: p.xl, yt: p.yt, tl: 3, fs: 12.5, nfs: 16, xm: 6, xng: 28, yng: 12, mult: p.mult });
  const base = { xAxisIndex: ax.xi, yAxisIndex: ax.yi, silent: true, animation: false };
  if (p.baseLine) series.push(Object.assign({ type: 'line', name: 'baseline', data: p.baseLine, showSymbol: false, symbol: 'none',
    lineStyle: { color: '#444', width: 0.8 }, z: 2 }, base));
  (p.gray || []).forEach(g => series.push(Object.assign({ type: 'line', name: 'shake-up', data: g, showSymbol: false, symbol: 'none', smooth: 0.35,
    lineStyle: { color: '#444', width: 0.8 }, z: 2 }, base)));
  (p.comps || []).forEach(c => series.push(Object.assign({ type: 'line', name: c[0], data: c[1], showSymbol: false, symbol: 'none', smooth: 0.35,
    color: COMP_COLORS[c[0]], lineStyle: { color: OUTLINE, width: 0.6 }, itemStyle: { color: COMP_COLORS[c[0]] },
    areaStyle: { color: COMP_COLORS[c[0]], opacity: 1, origin: p.base }, z: 2 }, base)));
  series.push(Object.assign({ type: 'scatter', name: 'data', data: sampled(p.data[0], p.data[1], p.data[2]), symbol: 'circle', symbolSize: 5.5,
    itemStyle: { color: 'rgba(0,0,0,0)', borderColor: '#1a1a1a', borderWidth: 0.8 }, z: 3 }, base));
  if (p.fit) series.push(Object.assign({ type: 'line', name: 'fit', data: p.fit, showSymbol: false, symbol: 'none', smooth: 0.35,
    color: '#000', lineStyle: { color: '#000', width: 2 }, itemStyle: { color: '#000' }, z: 4 }, base));
  if (p.note) p.note.forEach(n => textNotes.push([ax.gi, n[0], n[1], n[2], 13.5]));
  titles.push({ text: p.title[0], left: p.title[1], top: p.title[2], padding: 0,
    textStyle: { fontSize: 16, fontWeight: 'normal', fontFamily: FONT, color: '#000' } });
  const narrow = p.leg[2].length === 1;
  legends.push({ left: p.leg[0], top: p.leg[1], orient: 'vertical', selectedMode: false, padding: [2, 5, 2, 3], borderColor: '#333', borderWidth: 0.8,
    backgroundColor: '#fff', itemWidth: narrow ? 40 : 42, itemHeight: 11, itemGap: 1.5,
    formatter: n => LEG_TEXT[n] || n,
    textStyle: { fontSize: 12, lineHeight: 14, fontFamily: FONT, color: '#000',
      rich: { s: { fontSize: 8.5, lineHeight: 9, padding: [5, 0, 0, 0], fontFamily: FONT, color: '#000' } } },
    data: p.leg[2].map(n => legendItem(n, narrow)) });
});

const chart = echarts.init(document.getElementById('c'), null, { renderer: 'canvas', width: 672, height: 967 });
const option = {
  animation: false,
  backgroundColor: '#fff',
  title: titles,
  grid: grids,
  xAxis: xAxes,
  yAxis: yAxes,
  legend: legends,
  graphic: graphics,
  series: series
};
chart.setOption(option);
// Annotation texts placed at data coordinates through the chart's own scales
const noteGraphics = textNotes.map(t => {
  const px = chart.convertToPixel({ gridIndex: t[0] }, [t[1], t[2]]);
  return { type: 'text', x: px[0], y: px[1], silent: true, z: 20,
    style: { text: t[3], fill: '#000', font: t[4] + 'px ' + FONT, align: 'center', verticalAlign: 'middle' } };
});
chart.setOption({ graphic: graphics.concat(noteGraphics) });
</script></body></html>
